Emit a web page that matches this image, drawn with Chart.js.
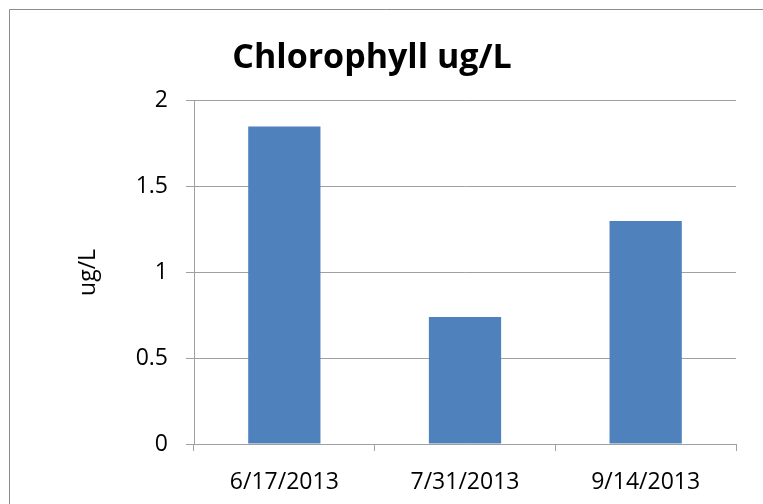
<!DOCTYPE html>
<html>
<head>
<meta charset="utf-8">
<script src="https://cdn.jsdelivr.net/npm/chart.js@4"></script>
<style>
  html, body { margin: 0; padding: 0; background: #fff; overflow: hidden; }
  #wrap { width: 763px; height: 504px; position: relative; }
  canvas { display: block; }
</style>
</head>
<body>
<div id="wrap"><canvas id="chlChart"></canvas></div>
<script>
// ===== 데이터 =====
const sampleDates = ['6/17/2013', '7/31/2013', '9/14/2013'];
const chlValues = [1.85, 0.74, 1.30];
const yTicks = [0, 0.5, 1, 1.5, 2];

const FONT = '"Open Sans", "Liberation Sans", sans-serif';
const AXIS_GRAY = '#a0a0a0';

// 바깥 테두리 (Excel 차트 영역) - 왼쪽/위쪽만 보임
const frameBorder = {
    id: 'frameBorder',
    beforeDraw(chart) {
        const ctx = chart.ctx;
        ctx.save();
        ctx.strokeStyle = '#8c8c8c';
        ctx.lineWidth = 1;
        ctx.beginPath();
        ctx.moveTo(9.5, chart.height);
        ctx.lineTo(9.5, 9.5);
        ctx.lineTo(chart.width, 9.5);
        ctx.stroke();
        ctx.restore();
    }
};

new Chart(document.getElementById('chlChart').getContext('2d'), {
    type: 'bar',
    data: {
        labels: sampleDates,
        datasets: [{
            label: 'Chlorophyll ug/L',
            data: chlValues,
            backgroundColor: '#4f81bd',
            borderWidth: 0,
            barPercentage: 0.4,
            categoryPercentage: 1.0
        }]
    },
    options: {
        responsive: true,
        maintainAspectRatio: false,
        animation: false,
        layout: { padding: { left: 8, right: 27, top: 0, bottom: 0 } },
        plugins: {
            legend: { display: false },
            tooltip: { enabled: false },
            title: {
                display: true,
                text: 'Chlorophyll ug/L',
                color: '#000',
                font: { family: FONT, size: 34, weight: 'bold' },
                padding: { top: 38, bottom: 22 }
            }
        },
        scales: {
            y: {
                min: 0,
                max: 2,
                afterFit(scale) { scale.width = 186; },
                afterBuildTicks(scale) { scale.ticks = yTicks.map(v => ({ value: v })); },
                border: { color: AXIS_GRAY, width: 1 },
                grid: { color: AXIS_GRAY, lineWidth: 1, tickLength: 8, drawTicks: true },
                ticks: {
                    color: '#000',
                    padding: 18,
                    font: { family: FONT, size: 23 },
                    callback: v => String(v)
                },
                title: {
                    display: true,
                    text: 'ug/L',
                    color: '#000',
                    font: { family: FONT, size: 23 },
                    padding: { top: 67, bottom: 0 }
                }
            },
            x: {
                afterFit(scale) { scale.height = 60; },
                border: { color: AXIS_GRAY, width: 1 },
                grid: { offset: true, drawOnChartArea: false, color: AXIS_GRAY, tickLength: 7 },
                ticks: {
                    color: '#000',
                    padding: 18,
                    maxRotation: 0,
                    font: { family: FONT, size: 23 }
                }
            }
        }
    },
    plugins: [frameBorder]
});
</script>
</body>
</html>
